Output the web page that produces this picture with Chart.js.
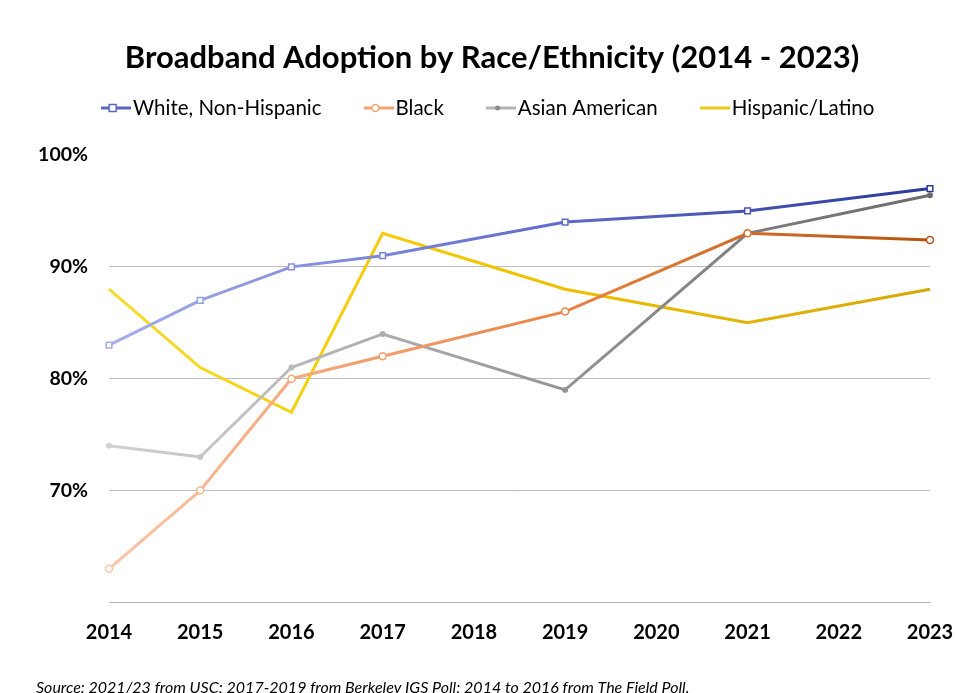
<!DOCTYPE html>
<html>
<head>
<meta charset="utf-8">
<script src="https://cdn.jsdelivr.net/npm/chart.js@4"></script>
<style>
html,body{margin:0;padding:0;background:#fff;}
canvas{display:block;}
</style>
</head>
<body>
<canvas id="c" width="956" height="693"></canvas>
<script>
const years = ['2014','2015','2016','2017','2018','2019','2020','2021','2022','2023'];
const whiteNonHispanic = [83, 87, 90, 91, null, 94, null, 95, null, 97];
const black = [63, 70, 80, 82, null, 86, null, 93, null, 92.4];
const asianAmerican = [74, 73, 81, 84, null, 79, null, 93, null, 96.4];
const hispanicLatino = [88, 81, 77, 93, null, 88, null, 85, null, 88];
const yTicks = [60, 70, 80, 90, 100];

const seriesNames = ['White, Non-Hispanic', 'Black', 'Asian American', 'Hispanic/Latino'];

function grad(stops){
  return (ctx) => {
    const ch = ctx.chart, a = ch.chartArea;
    if (!a) return stops[stops.length-1][1];
    const g = ch.ctx.createLinearGradient(a.left, 0, a.right, 0);
    stops.forEach(s => g.addColorStop(s[0], s[1]));
    return g;
  };
}
const whiteStops = [[0,'#a6aeea'],[0.5,'#6570d0'],[1,'#2b3a9a']];
const blackStops = [[0,'#fdc4a6'],[0.55,'#ea8444'],[1,'#b8530f']];
const asianStops = [[0,'#d2d2d2'],[0.6,'#8f8f8f'],[1,'#6a6a6a']];
const hispStops = [[0,'#f6dc2c'],[0.4,'#f4c800'],[1,'#d6a806']];

// legend icon: short line with marker
const ICON_BOX = 13;
function icon(lineColor, marker){
  const W = 30;
  const cv = document.createElement('canvas');
  cv.width = W; cv.height = 12;
  const x = cv.getContext('2d');
  x.strokeStyle = lineColor; x.lineWidth = 3;
  x.beginPath(); x.moveTo(0,6); x.lineTo(W,6); x.stroke();
  x.lineWidth = 1.5;
  if (marker === 'square'){
    x.fillStyle = '#fff'; x.fillRect(8,2.5,7,7); x.strokeRect(8,2.5,7,7);
  } else if (marker === 'circle'){
    x.fillStyle = '#fff'; x.beginPath(); x.arc(11.5,6,3.5,0,Math.PI*2); x.fill(); x.stroke();
  } else if (marker === 'dot'){
    x.fillStyle = '#8a8a8a'; x.beginPath(); x.arc(11.5,6,2.5,0,Math.PI*2); x.fill();
  }
  return cv;
}
const legendIcons = [icon('#5a64c4','square'), icon('#f3a274','circle'), icon('#b4b4b4','dot'), icon('#ecc818', null)];

const ds = (label, data, stops, style, radius, filled) => ({
  label, data,
  borderColor: grad(stops),
  backgroundColor: grad(stops),
  borderWidth: 3,
  pointStyle: style,
  pointRadius: radius,
  pointBorderWidth: 1.5,
  pointBackgroundColor: filled ? grad(stops) : '#ffffff',
  pointBorderColor: grad(stops),
  pointHoverRadius: radius,
  spanGaps: true,
  tension: 0
});

// extra space below the legend
const legendGap = {
  id: 'legendGap',
  beforeInit(chart){
    const fit = chart.legend.fit;
    chart.legend.fit = function(){ fit.call(this); this.height += 26.75; };
  }
};

new Chart(document.getElementById('c'), {
  type: 'line',
  data: {
    labels: years,
    datasets: [
      ds(seriesNames[0], whiteNonHispanic, whiteStops, 'rect', 4, false),
      ds(seriesNames[1], black, blackStops, 'circle', 3.5, false),
      ds(seriesNames[2], asianAmerican, asianStops, 'circle', 2.2, true),
      ds(seriesNames[3], hispanicLatino, hispStops, 'circle', 0, false)
    ]
  },
  plugins: [legendGap],
  options: {
    responsive: false,
    animation: false,
    layout: { padding: { left: 36, right: 8, top: 0, bottom: 0 } },
    plugins: {
      title: {
        display: true,
        text: 'Broadband Adoption by Race/Ethnicity (2014 - 2023)',
        color: '#000',
        font: { family: 'Lato', size: 31, weight: 'bold', lineHeight: 1.2 },
        padding: { top: 39, bottom: -29.2 }
      },
      subtitle: {
        display: true,
        position: 'bottom',
        align: 'start',
        text: 'Source: 2021/23 from USC; 2017-2019 from Berkeley IGS Poll; 2014 to 2016 from The Field Poll.',
        color: '#000',
        font: { family: 'Lato', size: 16, style: 'italic', lineHeight: 0.6 },
        padding: { top: 21, bottom: 0 }
      },
      legend: {
        display: true,
        position: 'top',
        labels: {
          usePointStyle: true,
          pointStyleWidth: ICON_BOX,
          padding: 50.75,
          color: '#000',
          font: { family: 'Lato', size: 20.5 },
          generateLabels: (chart) => chart.data.datasets.map((d, i) => ({
            text: d.label,
            pointStyle: legendIcons[i],
            fillStyle: '#fff',
            strokeStyle: '#fff',
            lineWidth: 0,
            fontColor: '#000',
            hidden: false,
            datasetIndex: i
          }))
        }
      },
      tooltip: { enabled: false }
    },
    scales: {
      x: {
        type: 'category',
        offset: false,
        afterFit: (s) => { s.paddingRight = 26; s.paddingLeft = 0; },
        grid: { drawOnChartArea: false, drawTicks: false },
        border: { display: true, color: '#b5b5b5', width: 1 },
        ticks: {
          color: '#000',
          font: { family: 'Lato', size: 20, weight: 'bold' },
          padding: 18,
          maxRotation: 0,
          autoSkip: false
        }
      },
      y: {
        min: 60, max: 100,
        afterBuildTicks: (s) => { s.ticks = yTicks.map(v => ({ value: v })); },
        afterFit: (s) => { s.width = 73; },
        border: { display: false },
        grid: {
          drawTicks: false,
          color: (c) => (c.tick && (c.tick.value === 100 || c.tick.value === 60)) ? 'rgba(0,0,0,0)' : '#bdbdbd',
          lineWidth: 1
        },
        ticks: {
          color: '#000',
          padding: 21,
          font: { family: 'Lato', size: 19.5, weight: 'bold' },
          callback: (v) => v === 60 ? '' : v + '%'
        }
      }
    }
  }
});
</script>
</body>
</html>
